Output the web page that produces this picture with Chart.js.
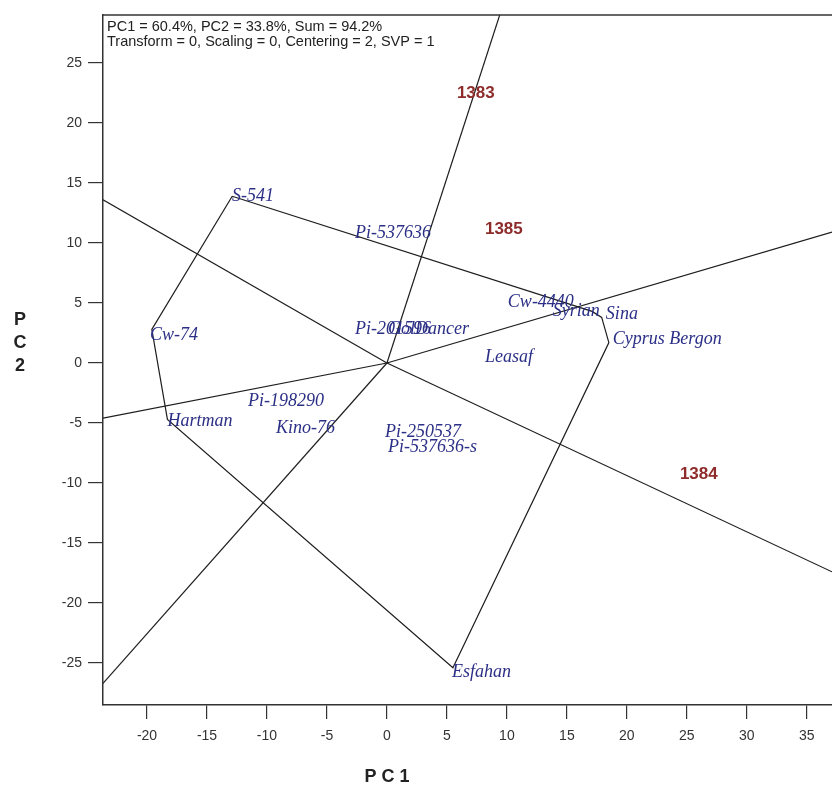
<!DOCTYPE html>
<html>
<head>
<meta charset="utf-8">
<script src="https://cdn.jsdelivr.net/npm/chart.js@4.4.1/dist/chart.umd.min.js"></script>
<style>
  html, body { margin: 0; padding: 0; background: #fff; }
  #wrap { width: 832px; height: 787px; }
</style>
</head>
<body>
<div id="wrap"><canvas id="biplot" width="832" height="787"></canvas></div>
<script>
/* Axis ranges and tick labels */
const X_MIN = -23.67, X_MAX = 37.1;
const Y_MIN = -28.5,  Y_MAX = 29;
const X_TICKS = [-20, -15, -10, -5, 0, 5, 10, 15, 20, 25, 30, 35];
const Y_TICKS = [-25, -20, -15, -10, -5, 0, 5, 10, 15, 20, 25];

/* Polygon (hull) vertices, in drawing order */
const HULL_X = [-12.9, 17.1, 17.9, 18.5, 5.5, -18.3, -19.6];
const HULL_Y = [13.9, 4.3, 3.8, 1.7, -25.4, -4.7, 2.8];

/* Rays from origin, perpendicular to hull sides (end points) */
const RAY_X = [9.4, 37.1, 37.1, -23.67, -23.67, -23.67];
const RAY_Y = [29, 10.9, -17.4, -26.7, 13.6, -4.6];

/* Genotype labels */
const GENO_NAMES = ['S-541', 'Pi-537636', 'Cw-74', 'Pi-201596', 'GolDancer', 'Cw-4440', 'Syrian',
  'Sina', 'Cyprus Bergon', 'Leasaf', 'Pi-198290', 'Hartman', 'Kino-76', 'Pi-250537', 'Pi-537636-s', 'Esfahan'];
const GENO_X = [-12.92, -2.67, -19.75, -2.67, 0.08, 10.08, 13.83, 18.25, 18.83, 8.17, -11.58, -18.3, -9.25, -0.17, 0.08, 5.42];
const GENO_Y = [13.92, 10.83, 2.33, 2.8, 2.85, 5.08, 4.33, 4.08, 2.0, 0.5, -3.2, -4.85, -5.4, -5.8, -7.0, -25.75];

/* Environment labels */
const ENV_NAMES = ['1383', '1385', '1384'];
const ENV_X = [5.83, 8.17, 24.42];
const ENV_Y = [22.5, 11.17, -9.25];

const HEADER = ['PC1 = 60.4%, PC2 = 33.8%, Sum = 94.2%', 'Transform = 0, Scaling = 0, Centering = 2, SVP = 1'];

const LINE_COL = '#1e1e1e';
const SANS = "'Liberation Sans', Arial, sans-serif";

const hullPts = HULL_X.map((x, i) => ({ x, y: HULL_Y[i] }));
hullPts.push(hullPts[0]);

const datasets = [{
  data: hullPts, showLine: true, borderColor: LINE_COL, borderWidth: 1.2,
  pointRadius: 0, fill: false, tension: 0
}];
RAY_X.forEach((x, i) => {
  datasets.push({
    data: [{ x: 0, y: 0 }, { x, y: RAY_Y[i] }], showLine: true,
    borderColor: LINE_COL, borderWidth: 1.2, pointRadius: 0, fill: false
  });
});

/* Text labels, box frame, header and axis titles */
const textPlugin = {
  id: 'biplotText',
  afterDatasetsDraw(chart) {
    const { ctx, chartArea: a, scales: { x, y } } = chart;
    ctx.save();
    ctx.textBaseline = 'middle';
    ctx.textAlign = 'left';

    ctx.font = "italic 18px 'Liberation Serif', 'Times New Roman', serif";
    ctx.fillStyle = '#2b2f86';
    GENO_NAMES.forEach((n, i) => ctx.fillText(n, x.getPixelForValue(GENO_X[i]), y.getPixelForValue(GENO_Y[i])));

    ctx.font = 'bold 17px ' + SANS;
    ctx.fillStyle = '#8e2b2b';
    ENV_NAMES.forEach((n, i) => ctx.fillText(n, x.getPixelForValue(ENV_X[i]), y.getPixelForValue(ENV_Y[i])));

    // frame top line
    ctx.strokeStyle = '#333';
    ctx.lineWidth = 1.5;
    ctx.beginPath();
    ctx.moveTo(a.left, a.top);
    ctx.lineTo(a.right + 2, a.top);
    ctx.stroke();

    ctx.font = '14.5px ' + SANS;
    ctx.fillStyle = '#222';
    ctx.fillText(HEADER[0], a.left + 4, a.top + 12);
    ctx.fillText(HEADER[1], a.left + 4, a.top + 27);

    ctx.font = 'bold 18px ' + SANS;
    ctx.fillStyle = '#222';
    ctx.textAlign = 'center';
    ['P', 'C', '2'].forEach((c, i) => ctx.fillText(c, 20, 320 + i * 23));
    ctx.fillText('P C 1', x.getPixelForValue(0), 777);
    ctx.restore();
  }
};

new Chart(document.getElementById('biplot'), {
  type: 'scatter',
  data: { datasets },
  options: {
    responsive: false,
    animation: false,
    events: [],
    layout: { padding: { top: 15, left: 0, right: 0, bottom: 0 } },
    plugins: { legend: { display: false }, tooltip: { enabled: false } },
    scales: {
      x: {
        type: 'linear', min: X_MIN, max: X_MAX,
        afterBuildTicks: s => { s.ticks = X_TICKS.map(v => ({ value: v })); },
        afterFit: s => { s.height = 82; },
        grid: { drawOnChartArea: false, drawTicks: true, tickLength: 14, color: '#333', lineWidth: 1.2 },
        border: { display: true, color: '#333', width: 1.5 },
        ticks: { font: { family: SANS, size: 14 }, color: '#333', padding: 9, maxRotation: 0 }
      },
      y: {
        type: 'linear', min: Y_MIN, max: Y_MAX,
        afterBuildTicks: s => { s.ticks = Y_TICKS.map(v => ({ value: v })); },
        afterFit: s => { s.width = 103; },
        grid: { drawOnChartArea: false, drawTicks: true, tickLength: 15, color: '#333', lineWidth: 1.2 },
        border: { display: true, color: '#333', width: 1.5 },
        ticks: { font: { family: SANS, size: 14 }, color: '#333', padding: 6 }
      }
    }
  },
  plugins: [textPlugin]
});
</script>
</body>
</html>
